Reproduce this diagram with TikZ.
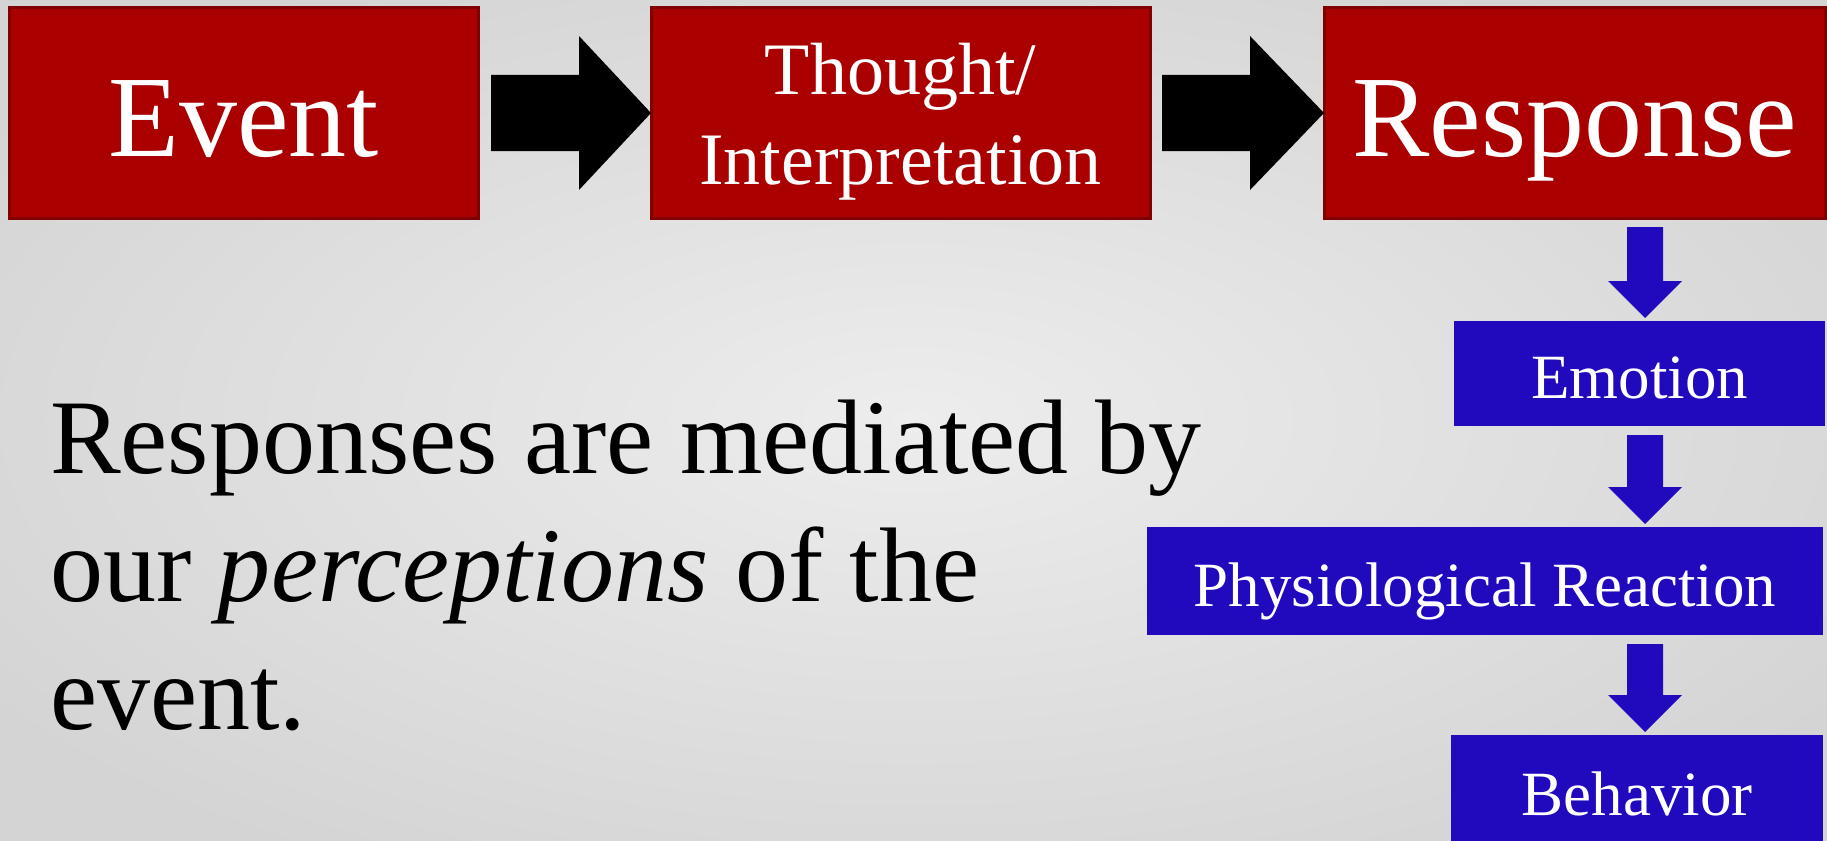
\documentclass[tikz,border=0pt]{standalone}
\usepackage{fontspec}
\setmainfont{Liberation Serif}
\usetikzlibrary{calc}
\definecolor{boxred}{RGB}{170,0,0}
\definecolor{boxredline}{RGB}{128,0,0}
\definecolor{boxblue}{RGB}{33,9,190}
\definecolor{bginner}{RGB}{237,237,237}
\definecolor{bgouter}{RGB}{212,212,212}
\begin{document}
\begin{tikzpicture}[x=1pt,y=-1pt,
  redbox/.style={draw=boxredline, line width=3pt, fill=boxred, text=white,
    inner sep=0pt, outer sep=0pt, minimum height=210pt},
  bigtext/.style={font=\fontsize{116}{120}\selectfont, text height=88pt, text depth=0pt},
  bluebox/.style={fill=boxblue, text=white, inner sep=0pt, outer sep=0pt,
    font=\fontsize{63}{75}\selectfont, text height=50pt, text depth=0pt},
  harrow/.style={fill=black},
  varrow/.style={fill=boxblue}]
\useasboundingbox (0,0) rectangle (1827,840);
\clip (0,0) rectangle (1827,840);
\shade[inner color=bginner, outer color=bgouter] (-200,-100) rectangle (2027,940);

% top row
\node[redbox, bigtext, minimum width=469pt] (ev) at (243.5,113) {Event};
\node[redbox, minimum width=499pt, font=\fontsize{74}{90}\selectfont,
  text height=50pt, text depth=86pt] (th) at (900.5,113)
  {\parbox[t]{480pt}{\centering Thought/\\Interpretation}};
\node[redbox, bigtext, minimum width=501pt] (re) at (1574.5,113) {Response};

% right column
\node[bluebox, minimum width=371pt, minimum height=105pt] (em) at (1639.5,373.5) {Emotion};
\node[bluebox, minimum width=676pt, minimum height=108pt] (ph) at (1485,581) {Physiological Reaction};
\node[bluebox, minimum width=372pt, minimum height=110pt] (be) at (1637,790) {Behavior};

% body text
\node[anchor=base west, inner sep=0pt, font=\fontsize{106}{128}\selectfont] (body) at (50,473)
  {\parbox[t]{1300pt}{\raggedright Responses are mediated by\\our \textit{perceptions} of the\\event.}};

% horizontal block arrows
\fill[harrow] ($(ev.east)+(13,-38)$) -- ($(th.west)+(-72,-38)$) -- ($(th.west)+(-72,-77)$)
  -- (th.west) -- ($(th.west)+(-72,77)$) -- ($(th.west)+(-72,38)$) -- ($(ev.east)+(13,38)$) -- cycle;
\fill[harrow] ($(th.east)+(12,-38)$) -- ($(re.west)+(-74,-38)$) -- ($(re.west)+(-74,-77)$)
  -- (re.west) -- ($(re.west)+(-74,77)$) -- ($(re.west)+(-74,38)$) -- ($(th.east)+(12,38)$) -- cycle;

% vertical block arrows
\coordinate (col) at (1645,0);
\foreach \a/\b in {re/em, em/ph, ph/be}{
  \fill[varrow] ($(col|-\a.south)+(-18,9)$) -- ($(col|-\a.south)+(18,9)$)
    -- ($(col|-\b.north)+(18,-40)$) -- ($(col|-\b.north)+(37,-40)$)
    -- ($(col|-\b.north)+(0,-3)$) -- ($(col|-\b.north)+(-37,-40)$)
    -- ($(col|-\b.north)+(-18,-40)$) -- cycle;
}
\end{tikzpicture}
\end{document}
